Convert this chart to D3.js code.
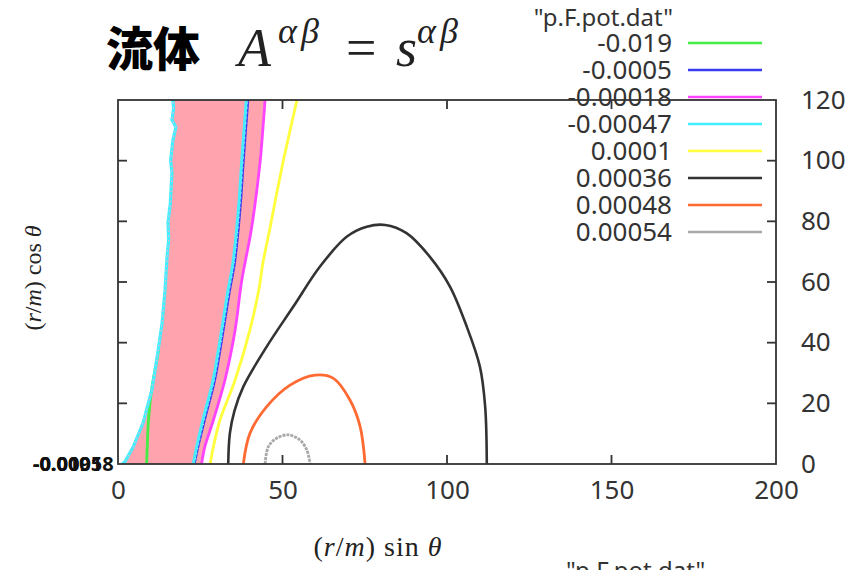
<!DOCTYPE html>
<html>
<head>
<meta charset="utf-8">
<script src="https://cdn.jsdelivr.net/npm/d3@7"></script>
<style>
  body { margin: 0; background: #fff; }
  text { font-family: "Noto Sans", "Liberation Sans", sans-serif; fill: #333; }
  .math { font-family: "Liberation Serif", "DejaVu Serif", serif; fill: #222; }
</style>
</head>
<body>
<svg id="chart" width="865" height="570"></svg>
<script>
// contour levels as in the legend of "p.F.pot.dat"
const levels = ["-0.019", "-0.0005", "-0.00018", "-0.00047", "0.0001", "0.00036", "0.00048", "0.00054"];
const levelColors = ["#44ee44", "#3a3af0", "#ff44ff", "#44eeff", "#ffff3c", "#333333", "#ff6a33", "#a8a8a8"];
const xTicks = [0, 50, 100, 150, 200];
const yTicks = [0, 20, 40, 60, 80, 100, 120];

// contour branches, [ (r/m) sin θ , (r/m) cos θ ]
const green019 = [[8.7, 0], [8.9, 6], [9.2, 13.5], [10.2, 24.4], [11.8, 34.3], [12.4, 38]];
const cyanLeft = [[1.2, 0], [2.1, 0.7], [4.6, 5.6], [7.6, 13.5], [10.3, 24.4], [11.9, 35.3], [13.4, 46.5],
  [14.3, 57.4], [14.9, 68.2], [15.4, 74], [15.2, 79.5], [15.9, 86], [16.4, 95.9], [16.0, 100], [16.7, 106.8],
  [17.6, 111.1], [16.4, 113.4], [16.9, 117], [16.7, 120]];
const cyanRight = [[22.9, 0], [23.9, 5.6], [25.8, 14.5], [28.9, 27.7], [31.5, 44.2], [33.4, 57], [34.9, 66],
  [36.1, 77.8], [36.9, 88], [37.6, 99.7], [38.3, 110], [39.0, 120]];
const blue0005 = [[23.2, 0], [24.3, 5.6], [26.3, 14.5], [29.4, 27.7], [32.0, 44.2], [33.9, 57], [35.4, 66],
  [36.6, 77.8], [37.4, 88], [38.1, 99.7], [38.8, 110], [39.5, 120]];
const magenta00018 = [[25.4, 0], [26.4, 5.7], [29.0, 14.5], [32.5, 27.7], [35.6, 44.2], [37.6, 60.4],
  [40.6, 77.8], [43.2, 99.7], [44.0, 110], [44.7, 120]];
const yellow0001 = [[28.0, 0], [29.0, 5.7], [31.0, 14.5], [35.6, 27.7], [40.1, 44.2], [42.9, 58],
  [44.0, 66], [46.2, 77.8], [48.2, 89], [50.2, 99.7], [52.3, 110], [54.4, 120]];
const black00036 = [[33.5, 0], [34.0, 10.1], [35.4, 17.5], [38.1, 25.5], [45.2, 38.7], [53.3, 51.9],
  [61.4, 65.1], [69.5, 74.9], [75.6, 78.2], [81.2, 78.8], [87.7, 76.1], [94.8, 68.3], [100.9, 58.5],
  [106.0, 45.3], [110.0, 32.1], [111.6, 18.9], [112.1, 0]];
const orange00048 = [[38.1, 0], [40.1, 10.1], [45.2, 18.9], [52.3, 26.0], [59.9, 29.3], [65.4, 28.3],
  [70.5, 21.1], [73.6, 12.3], [75.1, 0]];
const gray00054 = [[44.7, 0], [45.7, 5.7], [48.2, 8.5], [51.8, 9.6], [55.3, 7.9], [57.4, 4.6], [58.4, 0]];

const svg = d3.select("#chart");
const margin = { left: 118, right: 89, top: 100, bottom: 106 };
const W = 865, H = 570;

const x = d3.scaleLinear().domain([0, 200]).range([margin.left, W - margin.right]);
const y = d3.scaleLinear().domain([0, 120]).range([H - margin.bottom, margin.top]);

svg.append("clipPath").attr("id", "plotclip")
  .append("rect")
  .attr("x", x(0)).attr("y", y(120))
  .attr("width", x(200) - x(0)).attr("height", y(0) - y(120));

const plot = svg.append("g").attr("clip-path", "url(#plotclip)");

// pink band between the -0.00047 left branch and the -0.00018 line
const band = cyanLeft.concat(magenta00018.slice().reverse());
plot.append("path")
  .attr("d", d3.line().x(d => x(d[0])).y(d => y(d[1]))(band))
  .attr("fill", "#ffa3ae")
  .attr("stroke", "none");

const smooth = d3.line().x(d => x(d[0])).y(d => y(d[1])).curve(d3.curveCatmullRom);
const rough = d3.line().x(d => x(d[0])).y(d => y(d[1]));

function curve(data, color, width, gen) {
  return plot.append("path")
    .attr("d", (gen || smooth)(data))
    .attr("fill", "none")
    .attr("stroke", color)
    .attr("stroke-width", width)
    .attr("stroke-linejoin", "round");
}

curve(green019, levelColors[0], 2.8);
curve(blue0005, levelColors[1], 2.6);
curve(magenta00018, levelColors[2], 2.8);
curve(cyanLeft, levelColors[3], 3.2, rough);
curve(cyanLeft, "#ffb6c8", 1, rough).attr("stroke-dasharray", "1.5,3.5");
curve(cyanRight, levelColors[3], 3);
curve(cyanRight, "#ffffff", 0.8).attr("stroke-dasharray", "1,4").attr("transform", "translate(1.6,0)");
curve(yellow0001, levelColors[4], 2.8);
curve(black00036, levelColors[5], 2.6);
curve(orange00048, levelColors[6], 2.8);
curve(gray00054, levelColors[7], 2.8).attr("stroke-dasharray", "3,1");

// frame
svg.append("rect")
  .attr("x", x(0)).attr("y", y(120))
  .attr("width", x(200) - x(0)).attr("height", y(0) - y(120))
  .attr("fill", "none").attr("stroke", "#333").attr("stroke-width", 1.8);

// inner ticks
const tickLen = 9;
const tk = svg.append("g").attr("stroke", "#333").attr("stroke-width", 1.8);
xTicks.slice(1, -1).forEach(v => {
  tk.append("line").attr("x1", x(v)).attr("x2", x(v)).attr("y1", y(0)).attr("y2", y(0) - tickLen);
  tk.append("line").attr("x1", x(v)).attr("x2", x(v)).attr("y1", y(120)).attr("y2", y(120) + tickLen);
});
yTicks.slice(1, -1).forEach(v => {
  tk.append("line").attr("x1", x(0)).attr("x2", x(0) + tickLen).attr("y1", y(v)).attr("y2", y(v));
  tk.append("line").attr("x1", x(200)).attr("x2", x(200) - tickLen).attr("y1", y(v)).attr("y2", y(v));
});

// bottom tick labels
const xAxis = d3.axisBottom(x).tickValues(xTicks).tickSize(0).tickPadding(17);
const gx = svg.append("g").attr("transform", `translate(0,${y(0)})`).call(xAxis);
gx.select(".domain").remove();
gx.selectAll("text").attr("font-size", 26).attr("fill", "#333")
  .style("font-family", '"Noto Sans", sans-serif');

// right tick labels
const yAxis = d3.axisRight(y).tickValues(yTicks).tickSize(0).tickPadding(25);
const gy = svg.append("g").attr("transform", `translate(${x(200)},0)`).call(yAxis);
gy.select(".domain").remove();
gy.selectAll("text").attr("font-size", 26).attr("fill", "#333")
  .style("font-family", '"Noto Sans", sans-serif');

// overprinted left labels
levels.slice(0, 3).forEach(l => {
  svg.append("text")
    .attr("x", 33).attr("y", y(0) + 7)
    .attr("font-size", 20).attr("font-weight", "bold")
    .style("fill", "#111")
    .text(l);
});

// legend
svg.append("text").attr("x", 673).attr("y", 26).attr("text-anchor", "end")
  .attr("font-size", 24).text('"p.F.pot.dat"');
levels.forEach((l, i) => {
  const cy = 43 + i * 27;
  svg.append("text").attr("x", 672).attr("y", cy + 9).attr("text-anchor", "end")
    .attr("font-size", 26).text(l);
  svg.append("line").attr("x1", 688).attr("x2", 762).attr("y1", cy).attr("y2", cy)
    .attr("stroke", levelColors[i]).attr("stroke-width", 2.6);
});

// axis labels
const xl = svg.append("text").attr("class", "math").attr("x", 378).attr("y", 556)
  .attr("text-anchor", "middle").attr("font-size", 28).attr("letter-spacing", 1);
xl.append("tspan").text("(");
xl.append("tspan").attr("font-style", "italic").text("r");
xl.append("tspan").text("/");
xl.append("tspan").attr("font-style", "italic").text("m");
xl.append("tspan").text(") sin ");
xl.append("tspan").attr("font-style", "italic").text("θ");

const yl = svg.append("text").attr("class", "math")
  .attr("transform", "translate(41,278) rotate(-90)")
  .attr("text-anchor", "middle").attr("font-size", 24);
yl.append("tspan").text("(");
yl.append("tspan").attr("font-style", "italic").text("r");
yl.append("tspan").text("/");
yl.append("tspan").attr("font-style", "italic").text("m");
yl.append("tspan").text(") cos ");
yl.append("tspan").attr("font-style", "italic").text("θ");

// title
svg.append("text").attr("x", 106).attr("y", 66)
  .attr("font-size", 47).attr("font-weight", 900)
  .style("font-family", '"Noto Sans CJK JP", sans-serif').style("fill", "#000")
  .text("流体");
const t = svg.append("text").attr("class", "math").attr("y", 66).attr("font-size", 54);
t.append("tspan").attr("x", 238).attr("font-style", "italic").text("A");
t.append("tspan").attr("x", 278).attr("dy", -23).attr("font-size", 36).attr("letter-spacing", 4)
  .attr("font-style", "italic").text("αβ");
t.append("tspan").attr("x", 346).attr("dy", 23).text("=");
t.append("tspan").attr("x", 396).attr("font-style", "italic").text("s");
t.append("tspan").attr("x", 417).attr("dy", -23).attr("font-size", 36).attr("letter-spacing", 4)
  .attr("font-style", "italic").text("αβ");

// cut-off repeat of the key title at the bottom edge
svg.append("text").attr("x", 566).attr("y", 579).attr("font-size", 24).text('"p.F.pot.dat"');
</script>
</body>
</html>
